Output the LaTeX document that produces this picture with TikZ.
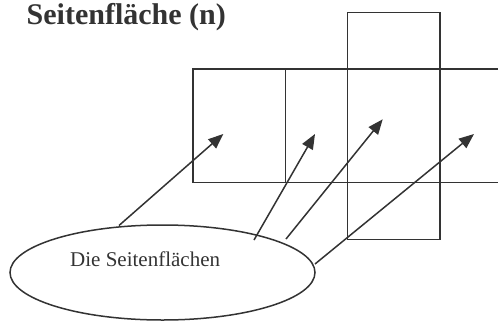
\documentclass[tikz,border=0pt]{standalone}
\usepackage{fontspec}
\setmainfont{Liberation Serif}
\usetikzlibrary{arrows.meta,shapes.geometric}
\definecolor{ink}{HTML}{333333}
\tikzset{
  lineart/.style={draw=ink, line width=1.5pt},
  pointer/.style={lineart, -{Triangle[length=15pt,width=12pt]}, fill=ink},
  bubble/.style={draw=ink, line width=1.5pt, ellipse, inner sep=0pt, minimum width=305pt, minimum height=95pt},
}
\begin{document}
\begin{tikzpicture}[x=1pt,y=-1pt]
\useasboundingbox (0,0) rectangle (498,322);
\clip (0,0) rectangle (498,322);
% title
\node[anchor=base west, inner sep=0pt, text=ink, font=\fontsize{30}{34}\selectfont\bfseries] (title) at (26.5,24) {Seitenfläche (n)};
% net of faces
\draw[lineart] (510,69) -- (193,69) -- (193,182.3) -- (510,182.3);
\draw[lineart] (285.7,69) -- (285.7,182.3);
\draw[lineart] (347.7,12.3) rectangle (440,239.3);
% ellipse
\node[bubble] (ell) at (162.5,272.5) {};
\node[anchor=base west, inner sep=0pt, text=ink, font=\fontsize{21}{24}\selectfont] (lbl) at (70,266.7) {Die Seitenflächen};
% arrow ends
\coordinate (s1) at (119,225.5);
\coordinate (s2) at (254,240);
\coordinate (s3) at (286,239);
\coordinate (s4) at (315,264);
\coordinate (t1) at (223.3,134);
\coordinate (t2) at (315,134);
\coordinate (t3) at (382.7,119.3);
\coordinate (t4) at (474,134);
\draw[pointer] (s1) -- (t1);
\draw[pointer] (s2) -- (t2);
\draw[pointer] (s3) -- (t3);
\draw[pointer] (s4) -- (t4);
\end{tikzpicture}
\end{document}
